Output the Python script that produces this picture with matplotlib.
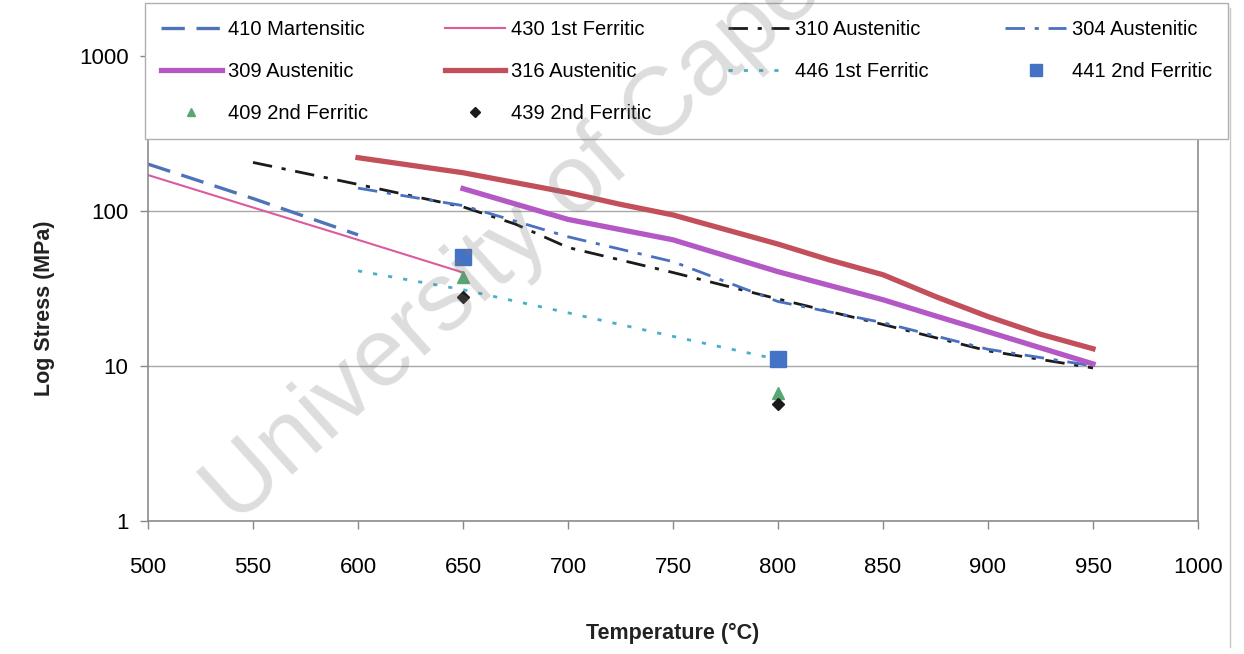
import matplotlib
matplotlib.use("Agg")
import matplotlib.pyplot as plt
from matplotlib.lines import Line2D

plt.rcParams['font.family'] = ['Liberation Sans', 'DejaVu Sans']

# data (temperature in C, stress in MPa)
t410 = [500, 550, 600]
s410 = [200, 120, 70]
t430 = [500, 550, 600, 650]
s430 = [170, 105, 65, 40]
t310 = [550, 600, 650, 675, 700, 750, 800, 850, 900, 950]
s310 = [205, 148, 106, 82, 58, 40, 27, 18.5, 12.5, 9.7]
t304 = [600, 650, 700, 750, 800, 850, 900, 950]
s304 = [140, 108, 68, 47, 26, 19, 12.8, 10]
t309 = [650, 700, 750, 800, 850, 875, 900, 950]
s309 = [139, 88, 65, 40.5, 26.7, 21, 16.6, 10.3]
t316 = [600, 650, 700, 725, 750, 800, 825, 850, 875, 900, 925, 950]
s316 = [220, 176, 131, 110, 94, 61, 48, 38.7, 28, 20.8, 16, 12.9]
t446 = [600, 650, 700, 750, 800]
s446 = [41, 31, 22, 15.5, 11]
t441 = [650, 800]
s441 = [50, 11.1]
t409 = [650, 800]
s409 = [37.5, 6.7]
t439 = [650, 800]
s439 = [28, 5.7]

xticks = [500, 550, 600, 650, 700, 750, 800, 850, 900, 950, 1000]
yticks = [1, 10, 100, 1000]

W, H = 1244, 654
fig = plt.figure(figsize=(W / 100, H / 100), dpi=100)
ax = fig.add_axes([148 / W, 1 - 521 / H, (1198 - 148) / W, (521 - 9) / H])

l410, = ax.plot(t410, s410, color='#4f73b8', lw=2.4, dashes=(7, 3.5), label='410 Martensitic')
l430, = ax.plot(t430, s430, color='#dc5a9e', lw=1.5, label='430 1st Ferritic')
l310, = ax.plot(t310, s310, color='#1b1b1b', lw=2.0, dashes=(7, 3.5, 1.5, 3.5), label='310 Austenitic')
l304, = ax.plot(t304, s304, color='#4a70c0', lw=2.0, dashes=(7, 3.5, 1.5, 3.5), label='304 Austenitic')
l309, = ax.plot(t309, s309, color='#b458c6', lw=3.8, label='309 Austenitic')
l316, = ax.plot(t316, s316, color='#c24f5a', lw=3.8, label='316 Austenitic')
l446, = ax.plot(t446, s446, color='#4badcc', lw=2.0, dashes=(1.5, 4), label='446 1st Ferritic')
l441, = ax.plot(t441, s441, ls='none', marker='s', ms=11, color='#4472c4', label='441 2nd Ferritic')
l409, = ax.plot(t409, s409, ls='none', marker='^', ms=8, color='#5aa672', label='409 2nd Ferritic')
l439, = ax.plot(t439, s439, ls='none', marker='D', ms=6.5, color='#1b1b1b', label='439 2nd Ferritic')

ax.set_yscale('log')
ax.set_xlim(500, 1000)
ax.set_ylim(1, 2000)
ax.set_xticks(xticks)
ax.set_xticklabels([str(v) for v in xticks])
ax.set_yticks(yticks)
ax.set_yticklabels([str(v) for v in yticks])
ax.minorticks_off()
ax.tick_params(axis='both', labelsize=16, length=6, color='#888888', width=1)
ax.tick_params(axis='x', pad=20)
ax.tick_params(axis='y', pad=8)
ax.grid(axis='y', color='#a8a8a8', lw=1)
ax.set_axisbelow(True)
for sp in ax.spines.values():
    sp.set_color('#8c8c8c')
    sp.set_linewidth(1.2)

ax.set_xlabel('Temperature (\u00b0C)', fontsize=15.5, fontweight='bold', color='#222222')
ax.set_ylabel('Log Stress (MPa)', fontsize=15.5, fontweight='bold', color='#222222')
ax.xaxis.set_label_coords(0.5, -(633 - 521) / 512, transform=ax.transAxes)
ax.yaxis.set_label_coords((45 - 148) / 1050, (521 - 308) / 512, transform=ax.transAxes)
ax.xaxis.label.set_va('center')
ax.yaxis.label.set_va('center')

# legend laid out row-wise (matplotlib fills columns first)
order = [l410, l309, l409, l430, l316, l439, l310, l446, l304, l441]
leg = fig.legend(handles=order, labels=[h.get_label() for h in order], ncol=4,
                 loc='upper left', bbox_to_anchor=(145 / W, 1 - 10 / H, (1228 - 145) / W, 0.01),
                 bbox_transform=fig.transFigure, mode='expand', fontsize=14.5,
                 frameon=True, fancybox=False, edgecolor='#b0b0b0', framealpha=1,
                 handlelength=3.0, handletextpad=0.3, labelspacing=1.15,
                 borderaxespad=0, borderpad=0.8, markerscale=0.75)
leg.get_frame().set_linewidth(1.0)

# watermark from the scan
fig.text(236 / W, 1 - 526 / H, 'University of Cape Town', fontsize=70, rotation=42,
         rotation_mode='anchor', ha='left', va='baseline', color='#7a7a7a', alpha=0.26,
         zorder=20)

# right edge of the chart area
fig.add_artist(Line2D([1230 / W, 1230 / W], [0.01, 1 - 8 / H], color='#c8c8c8', lw=1,
                      transform=fig.transFigure))

fig.savefig('out.png', dpi=100)
